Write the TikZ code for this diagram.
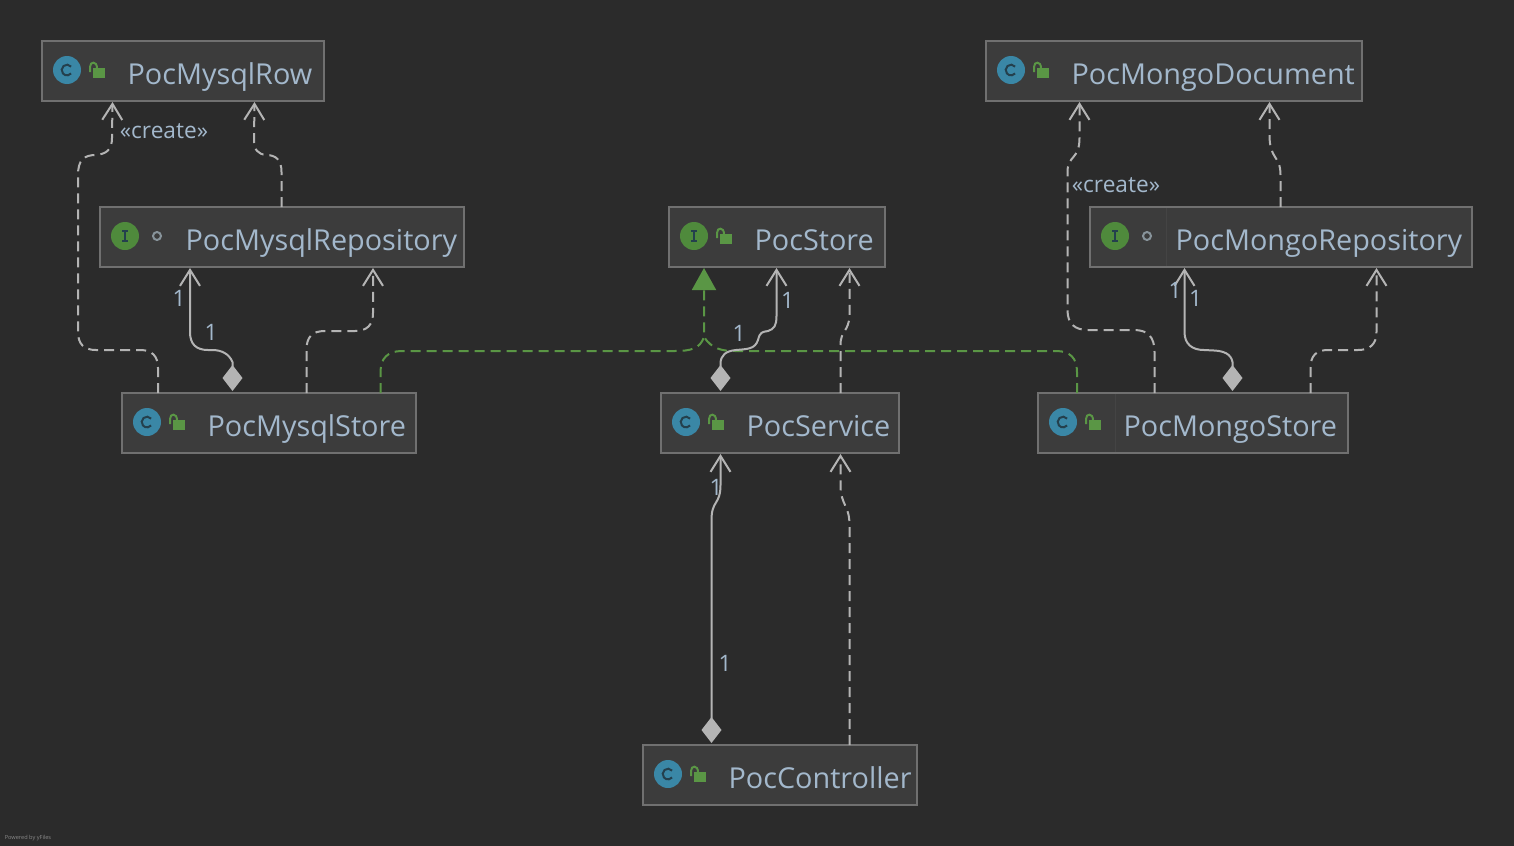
\documentclass[tikz,border=0pt]{standalone}
\usepackage{fontspec}
\setmainfont{Open Sans}
\usetikzlibrary{arrows.meta,calc}
\definecolor{bgc}{HTML}{2B2B2B}
\definecolor{boxc}{HTML}{3C3C3C}
\definecolor{edgec}{HTML}{707070}
\definecolor{linec}{HTML}{B4B4B4}
\definecolor{greenc}{HTML}{5A9645}
\definecolor{textc}{HTML}{A3B8CC}
\definecolor{clsc}{HTML}{3A87A6}
\definecolor{ifc}{HTML}{4F8A3C}
\definecolor{glyphc}{HTML}{24404D}
\definecolor{ringc}{HTML}{87939A}
\definecolor{divc}{HTML}{444444}
\tikzset{
  x=0.75pt,y=-0.75pt,
  umlbox/.style={draw=edgec,fill=boxc,line width=1.5pt,inner sep=0pt,outer sep=0pt,anchor=north west,text=textc,font=\fontsize{21.6}{25}\selectfont,text height=32.25pt,text depth=12.75pt},
  dep/.style={draw=linec,line width=1.5pt,dash pattern=on 7.5pt off 4.5pt,-{Straight Barb[length=12pt,width=15pt,line width=1.5pt]}},
  own/.style={draw=linec,line width=1.5pt,{Kite[length=19.5pt,width=15pt,inset=9.75pt,fill=linec]}-{Straight Barb[length=12pt,width=15pt,line width=1.5pt]}},
  impl/.style={draw=greenc,line width=1.5pt,dash pattern=on 7.5pt off 4.5pt,-{Triangle[length=16.5pt,width=18pt,fill=greenc]}},
  implb/.style={draw=greenc,line width=1.5pt,dash pattern=on 7.5pt off 4.5pt},
  lbl/.style={text=textc,font=\fontsize{17}{20}\selectfont,inner sep=0pt},
}
% \umlnode{name}{x1}{y1}{x2}{y2}{text}
\newcommand{\umlnode}[6]{%
  \pgfmathsetlengthmacro{\wbox}{(#4-#2)*0.75pt}%
  \node[umlbox] (#1) at (#2,#3) {\makebox[\wbox][l]{\hspace*{64.2pt}#6}};
}
\newcommand{\classicon}[2]{%
  \fill[clsc] (#1+25,#2+29) circle (10.5pt);
  \draw[glyphc,line width=1.5pt] (#1+29.1,#2+25.6) arc[start angle=40,end angle=320,radius=4pt];
}
\newcommand{\ificon}[2]{%
  \fill[ifc] (#1+25,#2+29) circle (10.5pt);
  \draw[glyphc,line width=1.1pt] (#1+25,#2+24) -- (#1+25,#2+34)
     (#1+22,#2+24) -- (#1+28,#2+24) (#1+22,#2+34) -- (#1+28,#2+34);
}
\newcommand{\lockicon}[2]{%
  \fill[greenc] (#1+51,#2+27) rectangle (#1+63,#2+37);
  \draw[greenc,line width=1.5pt] (#1+48,#2+31) -- (#1+48,#2+26) .. controls (#1+48,#2+20) and (#1+55,#2+20) .. (#1+55,#2+27);
}
\newcommand{\ringicon}[2]{%
  \draw[ringc,line width=1.5pt] (#1+57,#2+29) circle (3pt);
}
\begin{document}
\begin{tikzpicture}
\useasboundingbox[fill=bgc] (0,0) rectangle (1514,846);
\umlnode{row}{42}{41}{324}{101}{PocMysqlRow}
\umlnode{myrepo}{100}{207}{464}{267}{PocMysqlRepository}
\umlnode{store}{669}{207}{885}{267}{PocStore}
\umlnode{doc}{986}{41}{1362}{101}{PocMongoDocument}
\umlnode{mgrepo}{1090}{207}{1472}{267}{PocMongoRepository}
\umlnode{mystore}{122}{393}{416}{453}{PocMysqlStore}
\umlnode{service}{661}{393}{899}{453}{PocService}
\umlnode{mgstore}{1038}{393}{1348}{453}{PocMongoStore}
\umlnode{ctrl}{643}{745}{917}{805}{PocController}
% faint dividers
\draw[divc,line width=.75pt] (1166,208) -- (1166,266) (1115,394) -- (1115,452);
% icons
\classicon{42}{41}\lockicon{42}{41}
\ificon{100}{207}\ringicon{100}{207}
\ificon{669}{207}\lockicon{669}{207}
\classicon{986}{41}\lockicon{986}{41}
\ificon{1090}{207}\ringicon{1090}{207}
\classicon{122}{393}\lockicon{122}{393}
\classicon{661}{393}\lockicon{661}{393}
\classicon{1038}{393}\lockicon{1038}{393}
\classicon{643}{745}\lockicon{643}{745}
% connectors
\draw[implb] ($(mgstore.north west)+(39,0)$) -- (1077,372) .. controls (1077,358) and (1070,351) .. (1056,351) -- (735,351) .. controls (722,351) and (712,349) .. (704,337);
\draw[impl] ($(mystore.north west)+(258.5,0)$) -- (380.5,372) .. controls (380.5,358) and (388,351) .. (402,351) -- (675,351) .. controls (690,351) and (700,349) .. (704,337) -- ($(store.south west)+(35,1)$);
\draw[dep] ($(mystore.north west)+(36,0)$) -- (158,368) .. controls (158,356) and (152,350) .. (140,350) -- (96,350) .. controls (84,350) and (78,344) .. (78,332) -- (78,175) .. controls (78,160) and (84,155) .. (96,155) .. controls (106,154) and (112,150) .. (112,138) -- ($(row.south west)+(70.5,1)$);
\draw[dep] ($(myrepo.north west)+(181.5,0)$) -- (281.5,172) .. controls (281.5,160) and (276,155) .. (266,155) .. controls (258,154) and (254,150) .. (254,140) -- ($(row.south west)+(212.5,1)$);
\draw[own] ($(mystore.north west)+(110.5,-2)$) -- (232.5,362) .. controls (229,354) and (222,350) .. (212,350) -- (208,350) .. controls (196,350) and (190,344) .. (190,332) -- ($(myrepo.south west)+(90,1)$);
\draw[dep] ($(mystore.north west)+(184.5,0)$) -- (306.5,350) .. controls (306.5,337) and (312,331) .. (325,331) -- (355,331) .. controls (367,331) and (373,325) .. (373,313) -- ($(myrepo.south west)+(273,1)$);
\draw[own] ($(service.north west)+(59.5,-2)$) -- (720.5,364) .. controls (720.5,355) and (726,351) .. (736,350) .. controls (748,349) and (755,349) .. (758,340) .. controls (760,332) and (762,332) .. (768,331) .. controls (774,329) and (776.5,326) .. (776.5,316) -- ($(store.south west)+(107.5,1)$);
\draw[dep] ($(service.north west)+(179.5,0)$) -- (840.5,345) .. controls (840.5,330) and (849,332) .. (849.5,315) -- ($(store.south west)+(180.5,1)$);
\draw[dep] ($(mgstore.north west)+(116.5,0)$) -- (1154.5,352) .. controls (1154.5,337) and (1148,330) .. (1134,330) -- (1088,330) .. controls (1075,330) and (1067.5,324) .. (1067.5,310) -- (1067.5,172) .. controls (1067.5,155) and (1079.5,160) .. (1079.5,138) -- ($(doc.south west)+(93.5,1)$);
\draw[dep] ($(mgrepo.north west)+(190.5,0)$) -- (1280.5,175) .. controls (1280.5,155) and (1269.5,160) .. (1269.5,135) -- ($(doc.south west)+(283.5,1)$);
\draw[own] ($(mgstore.north west)+(194.5,-2)$) -- (1232.5,362) .. controls (1231,354) and (1224,351) .. (1214,350.5) -- (1204,350) .. controls (1192,350) and (1184.5,344) .. (1184.5,332) -- ($(mgrepo.south west)+(94.5,1)$);
\draw[dep] ($(mgstore.north west)+(272.5,0)$) -- (1310.5,368) .. controls (1310.5,356) and (1316,350) .. (1328,350) -- (1358,350) .. controls (1370,350) and (1376.5,344) .. (1376.5,332) -- ($(mgrepo.south west)+(286.5,1)$);
\draw[own] ($(ctrl.north west)+(68.5,-2)$) -- (711.5,520) .. controls (711.5,500) and (720.5,505) .. (720.5,485) -- ($(service.south west)+(59.5,1)$);
\draw[dep] ($(ctrl.north west)+(206.5,0)$) -- (849.5,525) .. controls (849.5,505) and (840.5,505) .. (840.5,485) -- ($(service.south west)+(179.5,1)$);
% labels
\node[lbl] (cr1) at (164,131) {«create»};
\node[lbl] (cr2) at (1116,185) {«create»};
\node[lbl] (n1) at (179,298) {1};
\node[lbl] (n2) at (211,332) {1};
\node[lbl] (n3) at (787.5,300) {1};
\node[lbl] (n4) at (739,333) {1};
\node[lbl] (n5) at (716,487) {1};
\node[lbl] (n6) at (725,663) {1};
\node[lbl] (n7) at (1175,290) {1};
\node[lbl] (n8) at (1195.5,298) {1};
\node[inner sep=0pt,text=white!45!bgc,font=\fontsize{4.2}{5}\selectfont] (yf) at (28,838) {Powered by yFiles};
\end{tikzpicture}
\end{document}
